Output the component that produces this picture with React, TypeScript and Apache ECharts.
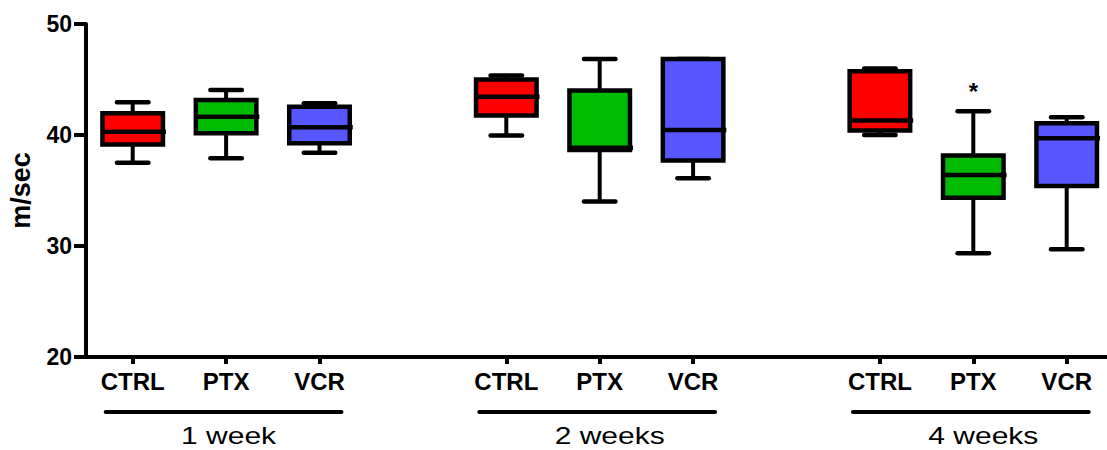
import React, { useEffect, useRef } from 'react';
import * as echarts from 'echarts';

const treatments = ['CTRL', 'PTX', 'VCR'];
const groupLabels = ['1 week', '2 weeks', '4 weeks'];
const yTicks = [20, 30, 40, 50];
// order: 1w CTRL, PTX, VCR, 2w CTRL, PTX, VCR, 4w CTRL, PTX, VCR
const minVals = [37.5, 37.9, 38.4, 39.95, 34.0, 36.1, 40.0, 29.35, 29.7];
const q1Vals = [39.15, 40.15, 39.25, 41.75, 38.65, 37.7, 40.4, 34.35, 35.4];
const medianVals = [40.3, 41.65, 40.7, 43.45, 38.85, 40.45, 41.3, 36.4, 39.7];
const q3Vals = [41.95, 43.15, 42.55, 45.0, 44.0, 46.85, 45.75, 38.15, 41.05];
const maxVals = [42.95, 44.05, 42.85, 45.35, 46.85, 46.85, 46.0, 42.15, 41.6];
const boxColors = ['#ff0000', '#00bb00', '#5757ff'];
const starText = '*';
const starBox = 7; // 4 weeks PTX
const starValue = 43.9;

const FONT = '"Liberation Sans", Arial, Helvetica, sans-serif';

export default function App() {
  const ref = useRef<HTMLDivElement>(null);
  useEffect(() => {
    if (!ref.current) return;
    const chart = echarts.init(ref.current, null, { renderer: 'svg' });

    const categories: string[] = [];
    const catIndex: number[] = [];
    groupLabels.forEach((g, gi) => {
      treatments.forEach((t) => {
        catIndex.push(categories.length);
        categories.push(t);
      });
      if (gi < groupLabels.length - 1) categories.push('');
    });

    const data = minVals.map((_, i) => [
      catIndex[i],
      minVals[i],
      q1Vals[i],
      medianVals[i],
      q3Vals[i],
      maxVals[i],
      i % treatments.length,
    ]);

    const renderItem = (params: any, api: any) => {
      const xi = api.value(0);
      const pMin = api.coord([xi, api.value(1)]);
      const pQ1 = api.coord([xi, api.value(2)]);
      const pMed = api.coord([xi, api.value(3)]);
      const pQ3 = api.coord([xi, api.value(4)]);
      const pMax = api.coord([xi, api.value(5)]);
      const cx = pMin[0];
      const band = api.size([1, 0])[0];
      const bw = band * 0.648;
      const cw = bw * 0.52;
      const color = boxColors[api.value(6)];
      const ls = { stroke: '#000', lineWidth: 4 };
      const cap = { stroke: '#000', lineWidth: 4.5, lineCap: 'round' };
      return {
        type: 'group',
        children: [
          { type: 'line', shape: { x1: cx, y1: pMax[1], x2: cx, y2: pQ3[1] }, style: ls },
          { type: 'line', shape: { x1: cx, y1: pQ1[1], x2: cx, y2: pMin[1] }, style: ls },
          { type: 'line', shape: { x1: cx - cw / 2, y1: pMax[1], x2: cx + cw / 2, y2: pMax[1] }, style: cap },
          { type: 'line', shape: { x1: cx - cw / 2, y1: pMin[1], x2: cx + cw / 2, y2: pMin[1] }, style: cap },
          {
            type: 'rect',
            shape: { x: cx - bw / 2, y: pQ3[1], width: bw, height: pQ1[1] - pQ3[1] },
            style: { fill: color, stroke: '#000', lineWidth: 4.5 },
          },
          { type: 'line', shape: { x1: cx - bw / 2, y1: pMed[1], x2: cx + bw / 2 + 3, y2: pMed[1] }, style: { stroke: '#000', lineWidth: 4.5 } },
        ],
      };
    };

    chart.setOption({
      animation: false,
      backgroundColor: '#ffffff',
      grid: { left: 86, top: 24, height: 333, width: 1027.4, outerBoundsMode: 'none', containLabel: false },
      xAxis: {
        type: 'category',
        data: categories,
        boundaryGap: true,
        axisLine: { show: true, lineStyle: { color: '#000', width: 4 } },
        axisTick: {
          show: true,
          alignWithLabel: true,
          length: 7,
          interval: (index: number, value: string) => value !== '',
          lineStyle: { color: '#000', width: 4 },
        },
        axisLabel: {
          interval: 0,
          margin: 12,
          color: '#000',
          fontFamily: FONT,
          fontWeight: 'bold',
          fontSize: 24,
        },
        splitLine: { show: false },
      },
      yAxis: {
        type: 'value',
        min: yTicks[0],
        max: yTicks[yTicks.length - 1],
        interval: yTicks[1] - yTicks[0],
        name: 'm/sec',
        nameLocation: 'middle',
        nameRotate: 90,
        nameGap: 52,
        nameTextStyle: { color: '#000', fontFamily: FONT, fontWeight: 'bold', fontSize: 27 },
        axisLine: { show: true, lineStyle: { color: '#000', width: 4 } },
        axisTick: { show: true, length: 12, lineStyle: { color: '#000', width: 4 } },
        axisLabel: { margin: 14, color: '#000', fontFamily: FONT, fontWeight: 'bold', fontSize: 23 },
        splitLine: { show: false },
      },
      series: [
        {
          type: 'custom',
          renderItem,
          data,
          encode: { x: 0, y: [1, 2, 3, 4, 5] },
          clip: false,
        },
      ],
    });

    const px = (i: number, v: number) =>
      chart.convertToPixel({ gridIndex: 0 }, [i, v]) as number[];
    const bottomY = px(0, yTicks[0])[1];
    const graphics: any[] = [];
    groupLabels.forEach((g, gi) => {
      const first = px(catIndex[gi * 3], yTicks[0])[0];
      const mid = px(catIndex[gi * 3 + 1], yTicks[0])[0];
      const last = px(catIndex[gi * 3 + 2], yTicks[0])[0];
      graphics.push({
        type: 'line',
        shape: { x1: first - 27, y1: bottomY + 55, x2: last + 22, y2: bottomY + 55 },
        style: { stroke: '#000', lineWidth: 4, lineCap: 'round' },
      });
      graphics.push({
        type: 'text',
        x: mid - 45,
        y: bottomY + 79,
        scaleX: 1.25,
        style: {
          text: g,
          x: 0,
          y: 0,
          align: 'left',
          verticalAlign: 'middle',
          lineHeight: 20,
          fill: '#000',
          font: `24px ${FONT}`,
        },
      });
    });
    const sp = px(catIndex[starBox], starValue);
    graphics.push({
      type: 'text',
      x: sp[0],
      y: sp[1],
      style: {
        text: starText,
        align: 'center',
        verticalAlign: 'middle',
        fill: '#000',
        font: `bold 24px ${FONT}`,
      },
    });
    chart.setOption({ graphic: graphics });

    return () => chart.dispose();
  }, []);

  return (
    <div
      ref={ref}
      style={{ position: 'absolute', left: 0, top: 0, width: 1107, height: 450, background: '#fff' }}
    />
  );
}
